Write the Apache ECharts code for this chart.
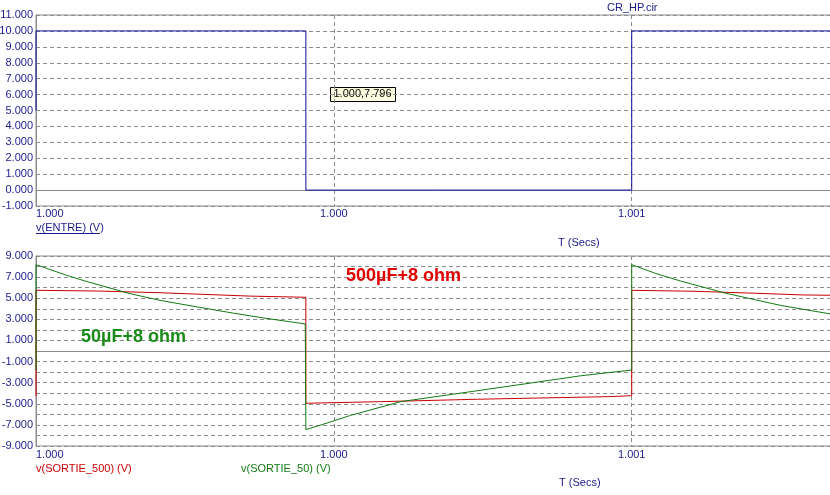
<!DOCTYPE html>
<html>
<head>
<meta charset="utf-8">
<script src="https://cdn.jsdelivr.net/npm/echarts@6/dist/echarts.min.js"></script>
<style>
html,body{margin:0;padding:0;background:#fff;}
#chart{width:830px;height:495px;}
</style>
</head>
<body>
<div id="chart"></div>
<script>
// ---- data (time in ms, volts) ----
const xTickValues = [999.5, 1000.0, 1000.5];
const xTickLabels = ['1.000', '1.000', '1.001'];

const entreT = [999.5, 999.5, 999.953, 999.953, 1000.5, 1000.5, 1000.8345];
const entreV = [5, 10, 10, 0, 0, 10, 10];

const s500T = [999.5, 999.5, 999.604, 999.708, 999.860, 999.953, 999.953, 1000.078, 1000.241, 1000.465, 1000.5, 1000.5, 1000.603, 1000.708, 1000.787, 1000.8345];
const s500V = [-4.3, 5.75, 5.68, 5.52, 5.2, 5.09, -4.95, -4.8, -4.57, -4.32, -4.23, 5.75, 5.66, 5.47, 5.31, 5.28];

const s50T = [999.5, 999.5, 999.55, 999.584, 999.658, 999.708, 999.771, 999.83, 999.882, 999.952, 999.953, 999.99, 1000.028, 1000.112, 1000.224, 1000.335, 1000.414, 1000.5, 1000.5, 1000.54, 1000.582, 1000.658, 1000.750, 1000.8345];
const s50V = [-1.8, 8.18, 7.2, 6.6, 5.43, 4.8, 4.17, 3.6, 3.13, 2.56, -7.45, -6.8, -6.1, -4.8, -3.9, -3.0, -2.35, -1.8, 8.18, 7.35, 6.63, 5.47, 4.32, 3.5];

const xMin = 999.5, xMax = 1000.8345;

function pairs(t, v) { return t.map((x, i) => [x, v[i]]); }

const FONT = "'Liberation Sans', Arial, sans-serif";
const NAVY = '#1a1a8c';
const GRID_COLOR = '#8c8c8c';

function xLabel(v) {
  for (let i = 0; i < xTickValues.length; i++) {
    if (Math.abs(v - xTickValues[i]) < 1e-6) return xTickLabels[i];
  }
  return '';
}

const chart = echarts.init(document.getElementById('chart'));
const baseX = (gi, margin) => ({
  type: 'value', gridIndex: gi, min: xMin, max: xMax, interval: 0.5,
  axisLine: { show: true, lineStyle: { color: GRID_COLOR, width: 1 } },
  axisTick: { show: false },
  axisLabel: { color: NAVY, fontFamily: FONT, fontSize: 11, margin: margin, formatter: xLabel,
               showMaxLabel: false, alignMinLabel: 'left' },
  splitLine: { show: true, lineStyle: { color: GRID_COLOR, type: [4, 3], width: 1 } }
});

chart.setOption({
  animation: false,
  backgroundColor: '#ffffff',
  grid: [
    { left: 36, right: -1, top: 15, height: 191, show: true, borderColor: GRID_COLOR, borderWidth: 1, backgroundColor: 'transparent', containLabel: false, outerBoundsMode: 'none' },
    { left: 36, right: -1, top: 256, height: 190, show: true, borderColor: GRID_COLOR, borderWidth: 1, backgroundColor: 'transparent', containLabel: false, outerBoundsMode: 'none' }
  ],
  xAxis: [baseX(0, 2), baseX(1, 3)],
  yAxis: [
    { type: 'value', gridIndex: 0, min: -1, max: 11, interval: 1,
      axisLine: { show: true, lineStyle: { color: GRID_COLOR } }, axisTick: { show: false },
      axisLabel: { color: NAVY, fontFamily: FONT, fontSize: 11, margin: 3, formatter: v => v.toFixed(3) },
      splitLine: { show: true, lineStyle: { color: GRID_COLOR, type: [4, 3] } } },
    { type: 'value', gridIndex: 1, min: -9, max: 9, interval: 1,
      axisLine: { show: true, lineStyle: { color: GRID_COLOR } }, axisTick: { show: false },
      axisLabel: { color: NAVY, fontFamily: FONT, fontSize: 11, margin: 3, interval: 1,
                   formatter: v => (Math.abs(Math.round(v)) % 2 === 1 ? v.toFixed(3) : '') },
      splitLine: { show: true, lineStyle: { color: GRID_COLOR, type: [4, 3] } } }
  ],
  series: [
    { type: 'line', xAxisIndex: 0, yAxisIndex: 0, data: pairs(entreT, entreV), showSymbol: false,
      lineStyle: { color: '#1010a0', width: 1 }, z: 3 },
    { type: 'line', xAxisIndex: 1, yAxisIndex: 1, data: pairs(s500T, s500V), showSymbol: false,
      lineStyle: { color: '#c80000', width: 1 }, z: 3 },
    { type: 'line', xAxisIndex: 1, yAxisIndex: 1, data: pairs(s50T, s50V), showSymbol: false,
      lineStyle: { color: '#127a12', width: 1 }, z: 4 }
  ],
  graphic: [
    { type: 'text', left: 607, top: 2, style: { text: 'CR_HP.cir', fill: NAVY, font: '11px ' + FONT } },
    { type: 'group', left: 330, top: 87, z: 100, children: [
      { type: 'rect', shape: { x: 0, y: 0, width: 65, height: 14 }, style: { fill: '#ffffe1', stroke: '#000', lineWidth: 1 } },
      { type: 'text', x: 3, y: 1, style: { text: '1.000,7.796', fill: '#000', font: '11px ' + FONT } }
    ]},
    { type: 'text', left: 36, top: 222, style: { text: 'v(ENTRE) (V)', fill: NAVY, font: '11px ' + FONT } },
    { type: 'line', shape: { x1: 36, y1: 233.5, x2: 100, y2: 233.5 }, style: { stroke: NAVY, lineWidth: 1 } },
    { type: 'text', left: 558, top: 237, style: { text: 'T (Secs)', fill: NAVY, font: '11px ' + FONT } },
    { type: 'text', left: 36, top: 463, style: { text: 'v(SORTIE_500) (V)', fill: '#c80000', font: '11px ' + FONT } },
    { type: 'text', left: 241, top: 463, style: { text: 'v(SORTIE_50) (V)', fill: '#127a12', font: '11px ' + FONT } },
    { type: 'text', left: 559, top: 477, style: { text: 'T (Secs)', fill: NAVY, font: '11px ' + FONT } },
    { type: 'text', left: 346, top: 267, z: 50, style: { text: '500µF+8 ohm', fill: '#e00000', font: 'bold 18px ' + FONT } },
    { type: 'text', left: 81, top: 328, z: 50, style: { text: '50µF+8 ohm', fill: '#1a8a1a', font: 'bold 18px ' + FONT } }
  ]
});
</script>
</body>
</html>
